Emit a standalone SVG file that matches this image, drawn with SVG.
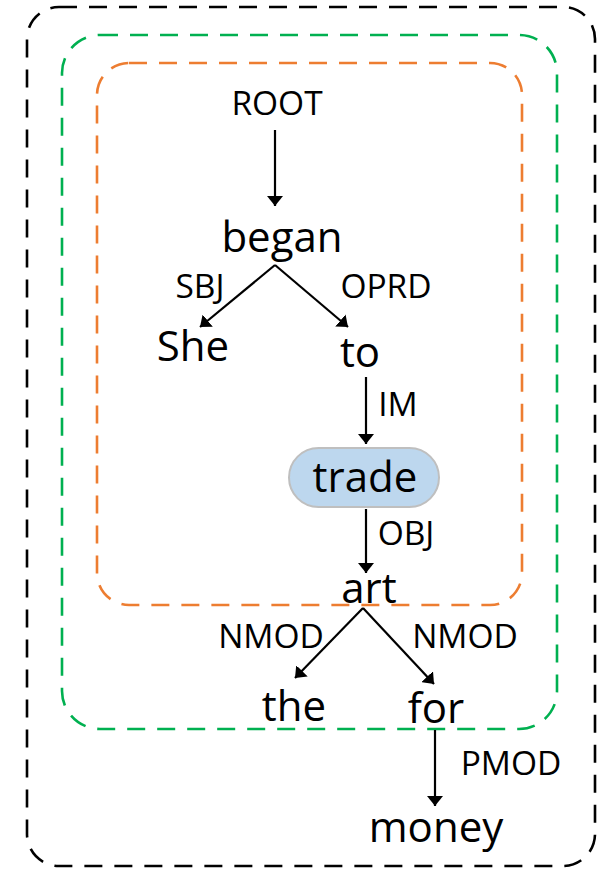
<svg xmlns="http://www.w3.org/2000/svg" width="603" height="869" viewBox="0 0 603 869">
<defs>
<style>
.word{font-family:"Open Sans","Liberation Sans",sans-serif;font-size:42px;fill:#000;text-anchor:middle}
.lab{font-family:"Open Sans","Liberation Sans",sans-serif;font-size:33.5px;fill:#000;text-anchor:middle}
.box{fill:none;stroke-width:2.6;stroke-dasharray:18 12}
.edge{stroke:#000;stroke-width:2.2;fill:none;marker-end:url(#arr)}
</style>
<marker id="arr" viewBox="0 0 10 16" refX="10" refY="8" markerWidth="10" markerHeight="16" markerUnits="userSpaceOnUse" orient="auto">
<path d="M0,0 L10,8 L0,16 z" fill="#000"/>
</marker>
</defs>
<rect id="scope-outer" class="box" x="27" y="7" width="568" height="859" rx="32" stroke="#000"/>
<rect id="scope-middle" class="box" x="62" y="35" width="495" height="694" rx="38" stroke="#00B050"/>
<rect id="scope-inner" class="box" x="97" y="63" width="425" height="542" rx="32" stroke="#ED7D31"/>
<g id="connectors">
<line class="edge" x1="275" y1="130" x2="275" y2="206"/>
<line class="edge" x1="275" y1="265" x2="200" y2="327"/>
<line class="edge" x1="275" y1="265" x2="348" y2="327"/>
<line class="edge" x1="366" y1="377" x2="366" y2="444"/>
<line class="edge" x1="366" y1="509" x2="366" y2="573"/>
<line class="edge" x1="363" y1="608" x2="295" y2="678"/>
<line class="edge" x1="363" y1="608" x2="434" y2="684"/>
<line class="edge" x1="435" y1="730" x2="435" y2="806"/>
<text class="lab" x="277" y="115">ROOT</text>
<text class="lab" x="200" y="298">SBJ</text>
<text class="lab" x="386" y="298">OPRD</text>
<text class="lab" x="398" y="416">IM</text>
<text class="lab" x="406" y="545">OBJ</text>
<text class="lab" x="271" y="648">NMOD</text>
<text class="lab" x="465" y="648">NMOD</text>
<text class="lab" x="511" y="775">PMOD</text>
</g>
<g id="began"><text class="word" x="282" y="252">began</text></g>
<g id="She"><text class="word" x="193" y="361">She</text></g>
<g id="to"><text class="word" x="360" y="367">to</text></g>
<g id="trade"><rect x="289" y="448" width="150" height="59" rx="29.5" fill="#BDD7EE" stroke="#BFBFBF" stroke-width="2"/><text class="word" x="365" y="492">trade</text></g>
<g id="art"><text class="word" x="369" y="603">art</text></g>
<g id="the"><text class="word" x="294" y="721">the</text></g>
<g id="for"><text class="word" x="436" y="723">for</text></g>
<g id="money"><text class="word" x="436" y="842">money</text></g>
</svg>
